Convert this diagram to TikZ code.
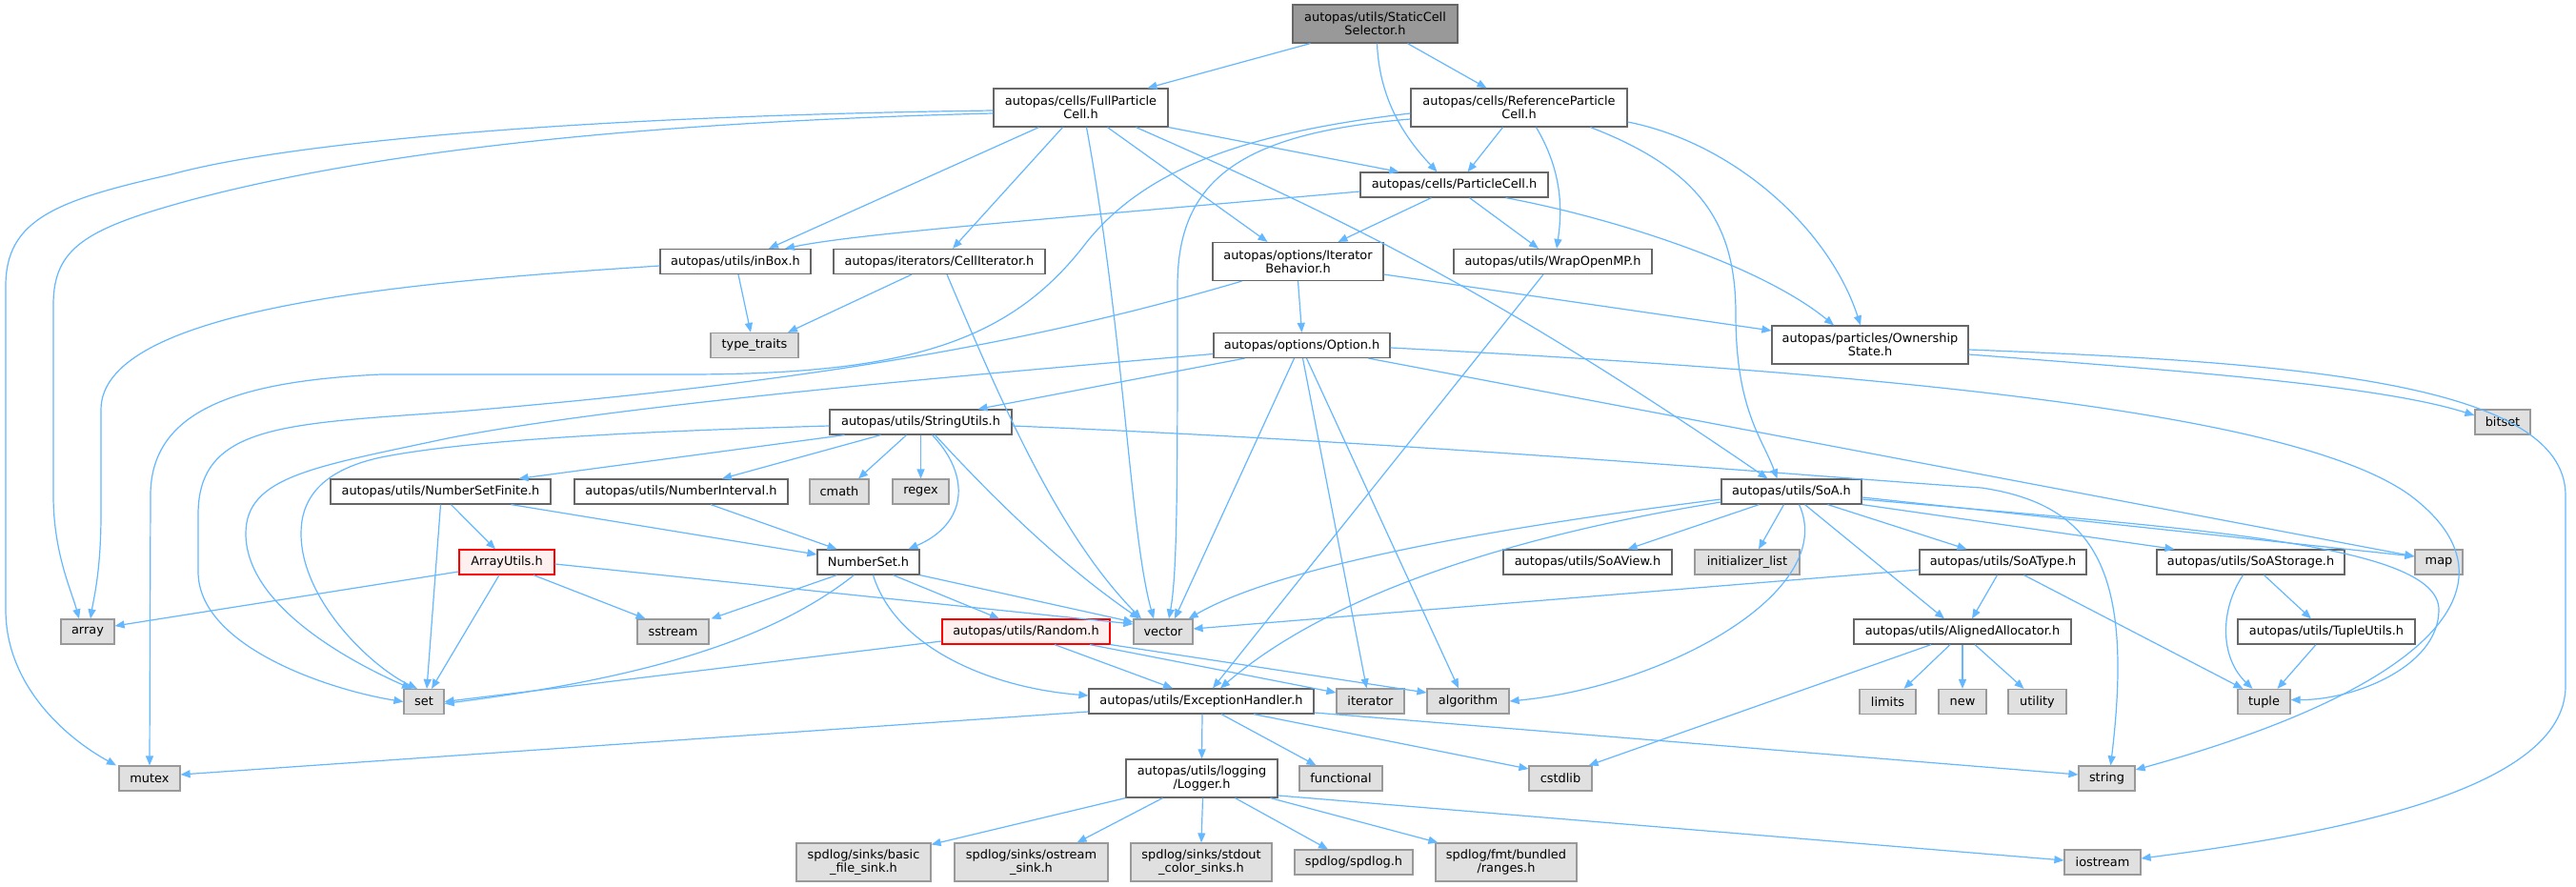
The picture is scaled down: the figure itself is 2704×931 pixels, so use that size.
\documentclass[tikz,border=0pt]{standalone}
\usepackage{fontspec}
\setmainfont{DejaVu Sans}
\usetikzlibrary{arrows.meta}
\definecolor{edgec}{HTML}{63B8FF}
\definecolor{fileborder}{HTML}{666666}
\definecolor{extfill}{HTML}{E0E0E0}
\definecolor{extborder}{HTML}{999999}
\definecolor{rootfill}{HTML}{999999}
\definecolor{redfill}{HTML}{FFF0F0}
\begin{document}
\begin{tikzpicture}[x=1pt,y=-1pt,
  box/.style={draw=fileborder, fill=white, line width=1.2pt, inner sep=0pt, align=center, minimum height=26pt, font=\fontsize{12.9}{14.3}\selectfont},
  two/.style={minimum height=40pt},
  ext/.style={box, draw=extborder, fill=extfill},
  rootbox/.style={box, fill=rootfill},
  redbox/.style={box, draw=red, fill=redfill},
  dep/.style={draw=edgec, line width=1.2pt, -{Triangle[length=10pt,width=8pt]}}]
\useasboundingbox[fill=white] (0,0) rectangle (2704,931);

% nodes
\node[rootbox,two,minimum width=173pt] (root) at (1443.5,25) {autopas/utils/StaticCell\\Selector.h};
\node[box,two,minimum width=183pt] (full) at (1134.5,113) {autopas/cells/FullParticle\\Cell.h};
\node[box,two,minimum width=227pt] (ref) at (1594.5,113) {autopas/cells/ReferenceParticle\\Cell.h};
\node[box,minimum width=197pt] (pcell) at (1526.5,194) {autopas/cells/ParticleCell.h};
\node[box,minimum width=158pt] (inbox) at (772,274.5) {autopas/utils/inBox.h};
\node[box,minimum width=222pt] (celliter) at (986,274.5) {autopas/iterators/CellIterator.h};
\node[box,two,minimum width=179pt] (iterb) at (1362.5,274.5) {autopas/options/Iterator\\Behavior.h};
\node[box,minimum width=208pt] (wrap) at (1630,274.5) {autopas/utils/WrapOpenMP.h};
\node[ext,minimum width=92pt] (typetraits) at (792,362.5) {type\_traits};
\node[box,minimum width=185pt] (option) at (1366.5,362.5) {autopas/options/Option.h};
\node[box,two,minimum width=206pt] (own) at (1963,362) {autopas/particles/Ownership\\State.h};
\node[box,minimum width=191pt] (strutils) at (966.5,443) {autopas/utils/StringUtils.h};
\node[ext,minimum width=58pt] (bitset) at (2627,443) {bitset};
\node[box,minimum width=231pt] (nsfinite) at (462.5,516) {autopas/utils/NumberSetFinite.h};
\node[box,minimum width=224pt] (ninterval) at (715,516) {autopas/utils/NumberInterval.h};
\node[ext,minimum width=62pt] (cmath) at (881,516) {cmath};
\node[ext,minimum width=59pt] (regex) at (966.5,516) {regex};
\node[box,minimum width=147pt] (soa) at (1880.5,516) {autopas/utils/SoA.h};
\node[redbox,minimum width=100pt] (arrayutils) at (532,590) {ArrayUtils.h};
\node[box,minimum width=107pt] (numberset) at (911.5,590) {NumberSet.h};
\node[box,minimum width=177pt] (soaview) at (1666.5,590) {autopas/utils/SoAView.h};
\node[ext,minimum width=110pt] (initlist) at (1834,590) {initializer\_list};
\node[box,minimum width=175pt] (soatype) at (2102.5,590) {autopas/utils/SoAType.h};
\node[box,minimum width=197pt] (soastorage) at (2362.5,590) {autopas/utils/SoAStorage.h};
\node[ext,minimum width=50pt] (map) at (2560,590) {map};
\node[ext,minimum width=56pt] (array) at (92,663) {array};
\node[ext,minimum width=75pt] (sstream) at (706.5,663) {sstream};
\node[redbox,minimum width=176pt] (random) at (1077,663) {autopas/utils/Random.h};
\node[ext,minimum width=62pt] (vector) at (1221,663) {vector};
\node[box,minimum width=228pt] (alloc) at (2060,663) {autopas/utils/AlignedAllocator.h};
\node[box,minimum width=186pt] (tupleutils) at (2442,663) {autopas/utils/TupleUtils.h};
\node[ext,minimum width=42pt] (set) at (445,736.5) {set};
\node[box,minimum width=236pt] (exc) at (1261,736) {autopas/utils/ExceptionHandler.h};
\node[ext,minimum width=71pt] (iterator) at (1438.5,736) {iterator};
\node[ext,minimum width=86pt] (algorithm) at (1541,736) {algorithm};
\node[ext,minimum width=59pt] (limits) at (1981.5,736.5) {limits};
\node[ext,minimum width=50pt] (new) at (2060,736.5) {new};
\node[ext,minimum width=61pt] (utility) at (2138.5,736.5) {utility};
\node[ext,minimum width=55pt] (tuple) at (2376.5,736.5) {tuple};
\node[ext,minimum width=64pt] (mutex) at (157,817) {mutex};
\node[box,two,minimum width=159pt] (logger) at (1261.5,817) {autopas/utils/logging\\/Logger.h};
\node[ext,minimum width=87pt] (functional) at (1407.5,817) {functional};
\node[ext,minimum width=66pt] (cstdlib) at (1638,817) {cstdlib};
\node[ext,minimum width=59pt] (string) at (2211.5,817) {string};
\node[ext,two,minimum width=141pt] (basicsink) at (906.5,905) {spdlog/sinks/basic\\\_file\_sink.h};
\node[ext,two,minimum width=161pt] (ostreamsink) at (1082.5,905) {spdlog/sinks/ostream\\\_sink.h};
\node[ext,two,minimum width=148pt] (stdoutsink) at (1261,905) {spdlog/sinks/stdout\\\_color\_sinks.h};
\node[ext,minimum width=124pt] (spdlogh) at (1421,905) {spdlog/spdlog.h};
\node[ext,two,minimum width=148pt] (ranges) at (1581,905) {spdlog/fmt/bundled\\/ranges.h};
\node[ext,minimum width=80pt] (iostream) at (2207,905) {iostream};

% edges
\draw[dep] ([xshift=-68]root.south) -- ([xshift=70]full.north);
\draw[dep] ([xshift=34]root.south) -- ([xshift=-34]ref.north);
\draw[dep] ([xshift=2]root.south) .. controls (1448,110) and (1480,150) .. ([xshift=-18]pcell.north);
\draw[dep] (full.south east) -- ([xshift=-58]pcell.north);
\draw[dep] ([xshift=-17]ref.south) -- ([xshift=14]pcell.north);
\draw[dep] ([xshift=18]ref.south) .. controls (1640,180) and (1640,220) .. ([xshift=4]wrap.north);
\draw[dep] ([yshift=-15]ref.east) .. controls (1820,150) and (1920,240) .. ([xshift=-10]own.north);
\draw[dep] ([xshift=75]ref.south) .. controls (1790,180) and (1822,240) .. (1822,330) .. controls (1822,430) and (1850,460) .. ([xshift=-15]soa.north);
\draw[dep] ([yshift=-12]ref.west) .. controls (1300,140) and (1236,190) .. (1236,300) .. controls (1236,500) and (1236,600) .. ([xshift=6]vector.north);
\draw[dep] ([yshift=-6]ref.west) .. controls (1300,140) and (1200,180) .. (1140,255) .. controls (1060,360) and (950,393) .. (720,393) -- (400,393) .. controls (250,400) and (158,430) .. (158,520) -- (mutex.north);
\draw[dep] ([yshift=-3]full.west) .. controls (600,122) and (300,150) .. (180,183) .. controls (60,210) and (6,230) .. (6,300) -- (6,640) .. controls (6,720) and (70,775) .. ([xshift=-35]mutex.north);
\draw[dep] ([yshift=-6]full.west) .. controls (600,130) and (350,170) .. (200,210) .. controls (90,240) and (56,260) .. (56,320) -- (56,520) .. controls (56,580) and (75,620) .. ([xshift=-9]array.north);
\draw[dep] ([yshift=-4.5]inbox.west) .. controls (450,295) and (106,320) .. (106,430) -- (106,540) .. controls (106,600) and (98,630) .. ([xshift=3]array.north);
\draw[dep] ([xshift=3]inbox.south) -- ([xshift=-4]typetraits.north);
\draw[dep] ([xshift=-29]celliter.south) -- ([xshift=35]typetraits.north);
\draw[dep] ([xshift=8]celliter.south) .. controls (1050,420) and (1110,560) .. ([xshift=-23]vector.north);
\draw[dep] ([xshift=-44]full.south) -- ([xshift=35]inbox.north);
\draw[dep] ([xshift=-19]full.south) -- ([xshift=14]celliter.north);
\draw[dep] ([xshift=6]full.south) .. controls (1180,350) and (1186,560) .. ([xshift=-10]vector.north);
\draw[dep] ([xshift=28]full.south) -- ([xshift=-32]iterb.north);
\draw[dep] ([xshift=58]full.south) .. controls (1400,225) and (1560,300) .. ([xshift=-25]soa.north);
\draw[dep] ([yshift=-7]pcell.west) .. controls (1100,230) and (900,245) .. ([xshift=52]inbox.north);
\draw[dep] ([xshift=-24]pcell.south) -- ([xshift=42]iterb.north);
\draw[dep] ([xshift=16]pcell.south) -- ([xshift=-15]wrap.north);
\draw[dep] ([xshift=54]pcell.south) .. controls (1700,230) and (1850,280) .. ([xshift=-38]own.north);
\draw[dep] (iterb.south) -- (option.north);
\draw[dep] ([yshift=-13.5]iterb.east) -- ([yshift=15]own.west);
\draw[dep] ([xshift=-59]iterb.south) .. controls (1050,370) and (800,405) .. (480,432) .. controls (300,445) and (208,445) .. (208,540) -- (208,600) .. controls (208,680) and (350,725) .. (set.west);
\draw[dep] ([xshift=-10]wrap.south) -- ([xshift=12]exc.north);
\draw[dep] ([xshift=-60]option.south) -- ([xshift=60]strutils.north);
\draw[dep] ([yshift=-9]option.west) .. controls (1000,395) and (650,425) .. (470,460) .. controls (330,490) and (258,500) .. (258,560) .. controls (258,640) and (380,700) .. ([xshift=-13]set.north);
\draw[dep] ([yshift=-4]strutils.west) .. controls (700,452) and (500,460) .. (400,480) .. controls (330,495) and (316,530) .. (316,560) .. controls (316,630) and (390,700) .. ([xshift=-7]set.north);
\draw[dep] ([xshift=-8]option.south) -- ([xshift=12]vector.north);
\draw[dep] ([xshift=1]option.south) -- ([xshift=-4]iterator.north);
\draw[dep] ([xshift=5]option.south) -- ([xshift=-10]algorithm.north);
\draw[dep] ([xshift=70]option.south) -- ([yshift=6]map.west);
\draw[dep] ([yshift=-2.5]option.east) .. controls (2050,395) and (2420,440) .. (2530,520) .. controls (2650,610) and (2560,720) .. ([yshift=9]string.east);
\draw[dep] ([xshift=-80]strutils.south) -- ([xshift=82]nsfinite.north);
\draw[dep] ([xshift=-42]strutils.south) -- ([xshift=43]ninterval.north);
\draw[dep] ([xshift=-15]strutils.south) -- ([xshift=20]cmath.north);
\draw[dep] (strutils.south) -- (regex.north);
\draw[dep] ([xshift=12]strutils.south) .. controls (1020,500) and (1015,550) .. ([xshift=42]numberset.north);
\draw[dep] ([xshift=15]strutils.south) .. controls (1040,520) and (1110,590) .. ([xshift=-25]vector.north);
\draw[dep] ([yshift=-4]strutils.east) .. controls (1500,465) and (1900,500) .. (2080,512) .. controls (2200,530) and (2240,600) .. ([xshift=4]string.north);
\draw[dep] ([xshift=11]nsfinite.south) -- ([xshift=-12]arrayutils.north);
\draw[dep] (nsfinite.south) -- ([xshift=3]set.north);
\draw[dep] ([xshift=74]nsfinite.south) -- ([yshift=8]numberset.west);
\draw[dep] ([xshift=31]ninterval.south) -- ([xshift=-33]numberset.north);
\draw[dep] ([yshift=-10]arrayutils.west) -- ([yshift=6]array.east);
\draw[dep] ([xshift=-8]arrayutils.south) -- ([xshift=8]set.north);
\draw[dep] ([xshift=28]arrayutils.south) -- ([xshift=-29]sstream.north);
\draw[dep] ([yshift=-2]arrayutils.east) -- ([yshift=8]vector.west);
\draw[dep] ([xshift=-33]numberset.south) -- ([xshift=40]sstream.north);
\draw[dep] ([xshift=-15]numberset.south) .. controls (800,680) and (650,715) .. ([yshift=-2]set.east);
\draw[dep] (numberset.south east) -- ([yshift=10]vector.west);
\draw[dep] ([xshift=26]numberset.south) -- ([xshift=-28]random.north);
\draw[dep] ([xshift=5]numberset.south) .. controls (940,680) and (1040,722) .. ([yshift=6]exc.west);
\draw[dep] ([yshift=-10]random.west) -- (set.east);
\draw[dep] ([xshift=30]random.south) -- ([xshift=-30]exc.north);
\draw[dep] ([xshift=67]random.south) -- ([yshift=9]iterator.west);
\draw[dep] (random.south east) -- ([yshift=9]algorithm.west);
\draw[dep] ([yshift=-11]exc.west) -- ([yshift=4]mutex.east);
\draw[dep] ([xshift=1]exc.south) -- (logger.north);
\draw[dep] ([xshift=21]exc.south) -- ([xshift=-26]functional.north);
\draw[dep] ([xshift=55]exc.south) -- ([yshift=10]cstdlib.west);
\draw[dep] ([yshift=-12]exc.east) -- ([yshift=4]string.west);
\draw[dep] (logger.south west) -- ([yshift=-2]basicsink.north east);
\draw[dep] ([xshift=-41]logger.south) -- ([xshift=48]ostreamsink.north);
\draw[dep] ([xshift=1]logger.south) -- (stdoutsink.north);
\draw[dep] ([xshift=35]logger.south) -- ([xshift=-27]spdlogh.north);
\draw[dep] ([xshift=72]logger.south) -- ([xshift=3]ranges.north west);
\draw[dep] ([yshift=-18]logger.east) -- ([yshift=2]iostream.west);
\draw[dep] ([xshift=-34]soa.south) -- ([xshift=42]soaview.north);
\draw[dep] ([yshift=-8]soa.west) .. controls (1600,550) and (1350,590) .. ([xshift=-5]vector.north east);
\draw[dep] ([yshift=-11]soa.west) .. controls (1600,560) and (1400,620) .. ([xshift=20]exc.north);
\draw[dep] ([xshift=8]soa.south) .. controls (1930,620) and (1750,720) .. (algorithm.east);
\draw[dep] ([xshift=-8]soa.south) -- ([xshift=12]initlist.north);
\draw[dep] ([xshift=14]soa.south) -- ([xshift=-19]alloc.north);
\draw[dep] ([xshift=38]soa.south) -- ([xshift=-38]soatype.north);
\draw[dep] (soa.south east) -- ([xshift=-80]soastorage.north);
\draw[dep] ([yshift=-6]soa.east) -- ([yshift=6]map.west);
\draw[dep] ([yshift=-8]soa.east) .. controls (2300,555) and (2560,570) .. (2560,640) .. controls (2560,700) and (2470,735) .. ([yshift=2]tuple.east);
\draw[dep] ([xshift=-6]soatype.south) -- ([xshift=10]alloc.north);
\draw[dep] ([xshift=22]soatype.south) -- ([xshift=-22]tuple.north);
\draw[dep] ([yshift=-8]soatype.west) -- ([yshift=3]vector.east);
\draw[dep] ([xshift=14]soastorage.south) -- ([xshift=-16]tupleutils.north);
\draw[dep] ([xshift=-8]soastorage.south) .. controls (2330,640) and (2330,690) .. ([xshift=-12]tuple.north);
\draw[dep] ([xshift=-11]tupleutils.south) -- ([xshift=14]tuple.north);
\draw[dep] ([xshift=-13]alloc.south) -- ([xshift=17]limits.north);
\draw[dep] (alloc.south) -- (new.north);
\draw[dep] ([xshift=13]alloc.south) -- ([xshift=-14]utility.north);
\draw[dep] ([xshift=-33]alloc.south) -- ([xshift=-4]cstdlib.north east);
\draw[dep] ([yshift=-10]own.east) .. controls (2300,390) and (2500,405) .. ([yshift=7]bitset.west);
\draw[dep] ([yshift=-5]own.east) .. controls (2400,380) and (2693,400) .. (2693,520) -- (2693,720) .. controls (2693,830) and (2450,875) .. ([yshift=4]iostream.east);
\end{tikzpicture}
\end{document}
